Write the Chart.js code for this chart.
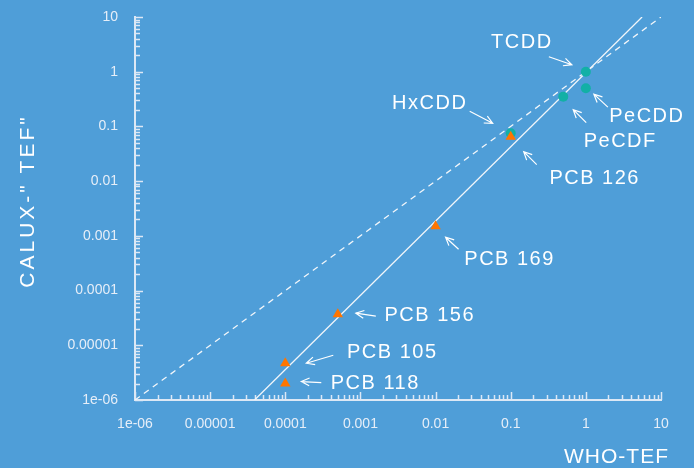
<!DOCTYPE html>
<html>
<head>
<meta charset="utf-8">
<script src="https://cdn.jsdelivr.net/npm/chart.js@4.4.1/dist/chart.umd.min.js"></script>
<style>
  html, body { margin: 0; padding: 0; background: #4f9ed8; }
  #wrap { width: 694px; height: 468px; }
</style>
</head>
<body>
<div id="wrap"><canvas id="grafico" width="694" height="468"></canvas></div>
<script>
// --- DADOS ---
const decadas = [1e-6, 1e-5, 1e-4, 1e-3, 1e-2, 1e-1, 1, 10];
const rotulosTicks = ['1e-06', '0.00001', '0.0001', '0.001', '0.01', '0.1', '1', '10'];

const nomesPCB = ['PCB 126', 'PCB 169', 'PCB 156', 'PCB 105', 'PCB 118'];
const whoPCB = [0.1, 0.01, 0.0005, 0.0001, 0.0001];
const caluxPCB = [0.065, 0.0015, 0.000037, 0.0000047, 0.000002];

const nomesDioxinas = ['TCDD', 'PeCDD', 'PeCDF', 'HxCDD'];
const whoDioxinas = [1, 1, 0.5, 0.1];
const caluxDioxinas = [1, 0.5, 0.35, 0.075];

const igualX = [1e-6, 10];
const igualY = [1e-6, 10];
const regressaoX = [3.9e-5, 5.6];
const regressaoY = [1e-6, 10];

// --- LAYOUT DOS RÓTULOS (deslocamento em px a partir do ponto) ---
const setas = {
    'TCDD':    { texto: [-64, -29], de: [-37, -15], ate: [-14, -7] },
    'PeCDD':   { texto: [61, 28],   de: [22, 19],   ate: [8, 6] },
    'PeCDF':   { texto: [57, 45],   de: [23, 26],   ate: [10, 13] },
    'HxCDD':   { texto: [-81, -30], de: [-41, -22], ate: [-18, -10] },
    'PCB 126': { texto: [84, 42],   de: [26, 28],   ate: [13, 15] },
    'PCB 169': { texto: [74, 33],   de: [23, 23],   ate: [10, 11] },
    'PCB 156': { texto: [92, 1],    de: [38, 2],    ate: [18, -1] },
    'PCB 105': { texto: [107, -11], de: [48, -8],   ate: [21, 0] },
    'PCB 118': { texto: [90, 0],    de: [36, -1],   ate: [16, -2] }
};

const corEixo = '#dce8f5';
const corTexto = '#ffffff';

const pontos = (xs, ys) => xs.map((v, i) => ({ x: v, y: ys[i] }));

const decoracao = {
    id: 'decoracao',
    beforeDatasetsDraw(chart) {
        const { ctx, chartArea: a, scales: { x, y } } = chart;
        ctx.save();
        ctx.strokeStyle = corEixo;
        ctx.lineWidth = 1.5;
        ctx.beginPath();
        decadas.forEach(d => {
            for (let m = 1; m <= 9; m++) {
                const v = d * m;
                if (v > 10.0001) break;
                const len = m === 1 ? 8 : 5;
                const px = Math.round(x.getPixelForValue(v)) + 0.5;
                ctx.moveTo(px, a.bottom); ctx.lineTo(px, a.bottom - len);
                const py = Math.round(y.getPixelForValue(v)) + 0.5;
                ctx.moveTo(a.left, py); ctx.lineTo(a.left + len, py);
            }
        });
        ctx.stroke();
        ctx.restore();
    },
    afterDatasetsDraw(chart) {
        const { ctx, scales: { x, y } } = chart;
        const todos = [
            ...nomesDioxinas.map((n, i) => [n, whoDioxinas[i], caluxDioxinas[i]]),
            ...nomesPCB.map((n, i) => [n, whoPCB[i], caluxPCB[i]])
        ];
        ctx.save();
        ctx.strokeStyle = corTexto;
        ctx.fillStyle = corTexto;
        ctx.lineWidth = 1.2;
        ctx.font = '20px "Liberation Sans", Arial, sans-serif';
        ctx.letterSpacing = '1.5px';
        ctx.textAlign = 'center';
        ctx.textBaseline = 'middle';
        todos.forEach(([nome, vx, vy]) => {
            const s = setas[nome];
            const px = x.getPixelForValue(vx), py = y.getPixelForValue(vy);
            ctx.fillText(nome, px + s.texto[0], py + s.texto[1]);
            const x0 = px + s.de[0], y0 = py + s.de[1];
            const x1 = px + s.ate[0], y1 = py + s.ate[1];
            const ang = Math.atan2(y1 - y0, x1 - x0);
            ctx.beginPath();
            ctx.moveTo(x0, y0); ctx.lineTo(x1, y1);
            ctx.moveTo(x1 - 9 * Math.cos(ang - 0.45), y1 - 9 * Math.sin(ang - 0.45));
            ctx.lineTo(x1, y1);
            ctx.lineTo(x1 - 9 * Math.cos(ang + 0.45), y1 - 9 * Math.sin(ang + 0.45));
            ctx.stroke();
        });
        ctx.restore();
    },
    afterDraw(chart) {
        const { ctx } = chart;
        ctx.save();
        ctx.fillStyle = corTexto;
        ctx.font = '21px "Liberation Sans", Arial, sans-serif';
        ctx.letterSpacing = '3px';
        ctx.textAlign = 'center';
        ctx.textBaseline = 'middle';
        ctx.translate(28, 201);
        ctx.rotate(-Math.PI / 2);
        ctx.fillText('CALUX-" TEF"', 0, 0);
        ctx.restore();

        ctx.save();
        ctx.fillStyle = corTexto;
        ctx.font = '21px "Liberation Sans", Arial, sans-serif';
        ctx.letterSpacing = '1px';
        ctx.textAlign = 'right';
        ctx.textBaseline = 'middle';
        ctx.fillText('WHO-TEF', 669, 457);
        ctx.restore();
    }
};

const eixo = (padding) => ({
    type: 'logarithmic',
    min: 1e-6,
    max: 10,
    grid: { display: false, drawTicks: false },
    border: { display: true, color: corEixo, width: 2 },
    afterBuildTicks: scale => { scale.ticks = decadas.map(v => ({ value: v })); },
    ticks: {
        autoSkip: false,
        maxRotation: 0,
        padding: padding,
        color: '#e6eef8',
        font: { family: '"Liberation Sans", Arial, sans-serif', size: 14 },
        callback: (v, i) => rotulosTicks[i]
    }
});

const eixoX = eixo(16);
eixoX.afterFit = s => { s.height = 68; s.paddingLeft = 0; s.paddingRight = 0; };
const eixoY = eixo(17);
eixoY.afterFit = s => { s.width = 135; s.paddingTop = 0; s.paddingBottom = 0; };

new Chart(document.getElementById('grafico').getContext('2d'), {
    type: 'scatter',
    data: {
        datasets: [
            {
                label: 'PCB',
                data: pontos(whoPCB, caluxPCB),
                pointStyle: 'triangle',
                radius: 6,
                backgroundColor: '#ff7500',
                borderColor: '#ff7500',
                borderWidth: 0
            },
            {
                label: 'Dioxinas',
                data: pontos(whoDioxinas, caluxDioxinas),
                pointStyle: 'circle',
                radius: 5,
                backgroundColor: '#12b0a6',
                borderColor: '#12b0a6',
                borderWidth: 0
            },
            {
                label: 'Regressão',
                data: pontos(regressaoX, regressaoY),
                showLine: true,
                radius: 0,
                borderColor: '#f2f6fa',
                borderWidth: 1.3
            },
            {
                label: 'y = x',
                data: pontos(igualX, igualY),
                showLine: true,
                radius: 0,
                borderColor: '#f2f6fa',
                borderWidth: 1.3,
                borderDash: [6, 5]
            }
        ]
    },
    options: {
        responsive: false,
        devicePixelRatio: 1,
        animation: false,
        layout: { padding: { top: 17, right: 33, left: 0, bottom: 0 } },
        plugins: { legend: { display: false }, tooltip: { enabled: false } },
        scales: { x: eixoX, y: eixoY }
    },
    plugins: [decoracao]
});
</script>
</body>
</html>
